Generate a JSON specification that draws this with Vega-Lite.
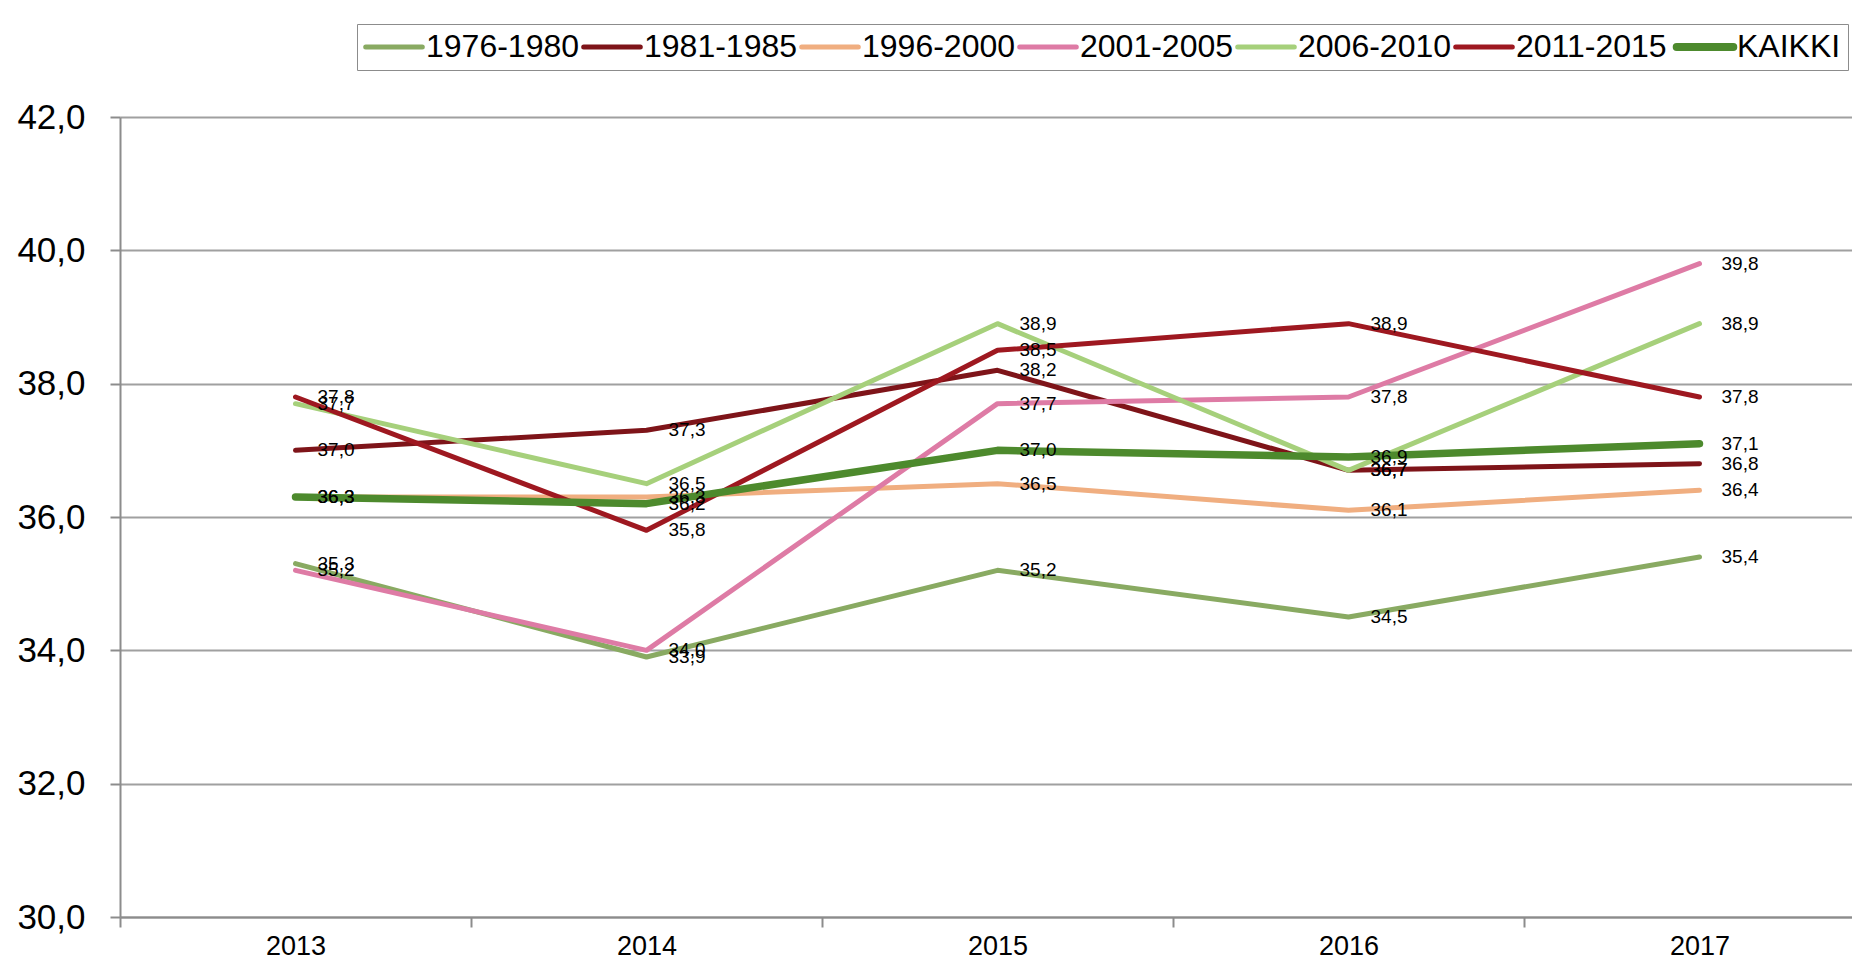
{
  "$schema": "https://vega.github.io/schema/vega-lite/v6.json",
  "autosize": {"type": "none"},
  "width": 1732,
  "height": 800,
  "padding": {"left": 120, "top": 117, "right": 0, "bottom": 43},
  "background": "white",
  "config": {
    "locale": {"number": {"decimal": ",", "thousands": " ", "grouping": [3], "currency": ["", " €"]}},
    "view": {"stroke": null},
    "font": "Liberation Sans"
  },
  "data": {
    "values": [
      {"sarja": "1976-1980", "vuosi": 2013, "arvo": 35.3},
      {"sarja": "1976-1980", "vuosi": 2014, "arvo": 33.9},
      {"sarja": "1976-1980", "vuosi": 2015, "arvo": 35.2},
      {"sarja": "1976-1980", "vuosi": 2016, "arvo": 34.5},
      {"sarja": "1976-1980", "vuosi": 2017, "arvo": 35.4},
      {"sarja": "1981-1985", "vuosi": 2013, "arvo": 37.0},
      {"sarja": "1981-1985", "vuosi": 2014, "arvo": 37.3},
      {"sarja": "1981-1985", "vuosi": 2015, "arvo": 38.2},
      {"sarja": "1981-1985", "vuosi": 2016, "arvo": 36.7},
      {"sarja": "1981-1985", "vuosi": 2017, "arvo": 36.8},
      {"sarja": "1996-2000", "vuosi": 2013, "arvo": 36.3},
      {"sarja": "1996-2000", "vuosi": 2014, "arvo": 36.3},
      {"sarja": "1996-2000", "vuosi": 2015, "arvo": 36.5},
      {"sarja": "1996-2000", "vuosi": 2016, "arvo": 36.1},
      {"sarja": "1996-2000", "vuosi": 2017, "arvo": 36.4},
      {"sarja": "2001-2005", "vuosi": 2013, "arvo": 35.2},
      {"sarja": "2001-2005", "vuosi": 2014, "arvo": 34.0},
      {"sarja": "2001-2005", "vuosi": 2015, "arvo": 37.7},
      {"sarja": "2001-2005", "vuosi": 2016, "arvo": 37.8},
      {"sarja": "2001-2005", "vuosi": 2017, "arvo": 39.8},
      {"sarja": "2006-2010", "vuosi": 2013, "arvo": 37.7},
      {"sarja": "2006-2010", "vuosi": 2014, "arvo": 36.5},
      {"sarja": "2006-2010", "vuosi": 2015, "arvo": 38.9},
      {"sarja": "2006-2010", "vuosi": 2016, "arvo": 36.7},
      {"sarja": "2006-2010", "vuosi": 2017, "arvo": 38.9},
      {"sarja": "2011-2015", "vuosi": 2013, "arvo": 37.8},
      {"sarja": "2011-2015", "vuosi": 2014, "arvo": 35.8},
      {"sarja": "2011-2015", "vuosi": 2015, "arvo": 38.5},
      {"sarja": "2011-2015", "vuosi": 2016, "arvo": 38.9},
      {"sarja": "2011-2015", "vuosi": 2017, "arvo": 37.8},
      {"sarja": "KAIKKI", "vuosi": 2013, "arvo": 36.3},
      {"sarja": "KAIKKI", "vuosi": 2014, "arvo": 36.2},
      {"sarja": "KAIKKI", "vuosi": 2015, "arvo": 37.0},
      {"sarja": "KAIKKI", "vuosi": 2016, "arvo": 36.9},
      {"sarja": "KAIKKI", "vuosi": 2017, "arvo": 37.1}
    ]
  },
  "encoding": {
    "x": {
      "field": "vuosi",
      "type": "ordinal",
      "scale": {"type": "band", "range": [0, 1755], "paddingInner": 0, "paddingOuter": 0},
      "axis": {
        "title": null,
        "labelAngle": 0,
        "labelFont": "Liberation Sans",
        "labelFontSize": 27,
        "labelColor": "black",
        "labelPadding": 6,
        "tickBand": "extent",
        "tickSize": 10,
        "tickColor": "#8c8c8c",
        "tickWidth": 2,
        "domainColor": "#8c8c8c",
        "domainWidth": 2,
        "grid": false
      }
    },
    "y": {
      "field": "arvo",
      "type": "quantitative",
      "scale": {"domain": [30, 42], "nice": false, "zero": false},
      "axis": {
        "title": null,
        "values": [30, 32, 34, 36, 38, 40, 42],
        "format": ".1f",
        "labelFont": "Liberation Sans",
        "labelFontSize": 35,
        "labelColor": "black",
        "labelPadding": 25,
        "tickSize": 10,
        "tickColor": "#8c8c8c",
        "tickWidth": 2,
        "domainColor": "#8c8c8c",
        "domainWidth": 2,
        "grid": true,
        "gridColor": "#a0a0a0",
        "gridWidth": 2
      }
    }
  },
  "layer": [
    {
      "mark": {"type": "line", "strokeCap": "round", "strokeJoin": "round"},
      "encoding": {
        "color": {
          "field": "sarja",
          "type": "nominal",
          "scale": {
            "domain": ["1976-1980", "1981-1985", "1996-2000", "2001-2005", "2006-2010", "2011-2015", "KAIKKI"],
            "range": ["#89AA62", "#7E1419", "#F0AE80", "#DE7BA5", "#A6D07B", "#9E1820", "#4D8A2D"]
          },
          "legend": {
            "orient": "none",
            "legendX": 237,
            "legendY": -93,
            "direction": "horizontal",
            "columns": 7,
            "title": null,
            "symbolType": "stroke",
            "symbolSize": 3200,
            "symbolStrokeWidth": 5,
            "symbolOffset": 14,
            "labelFont": "Liberation Sans",
            "labelFontSize": 32,
            "labelColor": "black",
            "labelLimit": 400,
            "labelOffset": 16,
            "columnPadding": -7,
            "padding": 7,
            "strokeColor": "#8c8c8c",
            "fillColor": "white",
            "encode": {
              "symbols": {
                "update": {
                  "strokeWidth": {"signal": "datum.value === 'KAIKKI' ? 8 : 5"},
                  "strokeCap": {"value": "round"}
                }
              }
            }
          }
        },
        "strokeWidth": {
          "condition": {"test": "datum.sarja === 'KAIKKI'", "value": 7.5},
          "value": 5
        }
      }
    },
    {
      "mark": {"type": "text", "align": "left", "baseline": "middle", "dx": 22, "fontSize": 19, "font": "Liberation Sans", "color": "black"},
      "encoding": {
        "text": {"field": "arvo", "type": "quantitative", "format": ".1f"},
        "detail": {"field": "sarja", "type": "nominal"}
      }
    }
  ]
}
